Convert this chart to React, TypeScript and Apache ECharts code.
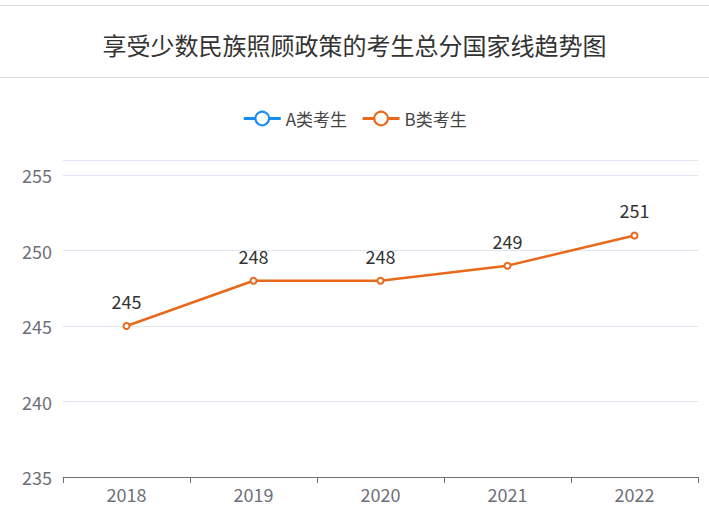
import React, { useEffect, useRef } from "react";
import * as echarts from "echarts";

const title = "享受少数民族照顾政策的考生总分国家线趋势图";
const years = ["2018", "2019", "2020", "2021", "2022"];
const seriesNames = ["A类考生", "B类考生"];
const aValues: number[] = [];
const bValues = [245, 248, 248, 249, 251];
const yMin = 235;
const yMax = 256;
const yInterval = 5;

export default function App() {
  const ref = useRef<HTMLDivElement>(null);
  useEffect(() => {
    document.body.style.margin = "0";
    const chart = echarts.init(ref.current!, null, { renderer: "svg" });
    const font = "'Microsoft YaHei', 'Noto Sans CJK SC', sans-serif";
    chart.setOption({
      animation: false,
      textStyle: { fontFamily: font },
      title: {
        text: title,
        left: "center",
        top: 27,
        textStyle: { fontSize: 24, fontWeight: "normal", color: "#333", fontFamily: font },
      },
      graphic: [
        { type: "line", shape: { x1: 0, y1: 5.5, x2: 709, y2: 5.5 }, style: { stroke: "#dddddd", lineWidth: 1 } },
        { type: "line", shape: { x1: 0, y1: 77.5, x2: 709, y2: 77.5 }, style: { stroke: "#dddddd", lineWidth: 1 } },
      ],
      legend: {
        data: seriesNames,
        top: 105,
        left: "center",
        itemWidth: 37,
        itemHeight: 17,
        itemGap: 14,
        lineStyle: { width: 3 },
        textStyle: { fontSize: 17, color: "#444", fontFamily: font },
      },
      grid: { left: 63, right: 11, top: 160, bottom: 45 },
      xAxis: {
        type: "category",
        data: years,
        boundaryGap: true,
        axisLine: { show: true, lineStyle: { color: "#6e7079" } },
        axisTick: { show: true, length: 6, lineStyle: { color: "#6e7079" } },
        axisLabel: { fontSize: 18, color: "#6e7079", margin: 8, fontFamily: font },
      },
      yAxis: {
        type: "value",
        min: yMin,
        max: yMax,
        interval: yInterval,
        axisLabel: { fontSize: 18, color: "#6e7079", margin: 11, showMaxLabel: false, fontFamily: font },
        splitLine: { lineStyle: { color: "#e0e6f1" } },
      },
      series: [
        {
          name: seriesNames[0],
          type: "line",
          data: aValues,
          color: "#1a8cf0",
          symbol: "emptyCircle",
          symbolSize: 6,
          lineStyle: { width: 2.5 },
        },
        {
          name: seriesNames[1],
          type: "line",
          data: bValues,
          color: "#e8691c",
          symbol: "emptyCircle",
          symbolSize: 6,
          lineStyle: { width: 2.5 },
          itemStyle: { borderWidth: 2 },
          label: { show: true, position: "top", distance: 12, fontSize: 18, color: "#333", fontFamily: font },
        },
      ],
    });
    return () => chart.dispose();
  }, []);
  return <div ref={ref} style={{ width: 709, height: 522 }} />;
}
